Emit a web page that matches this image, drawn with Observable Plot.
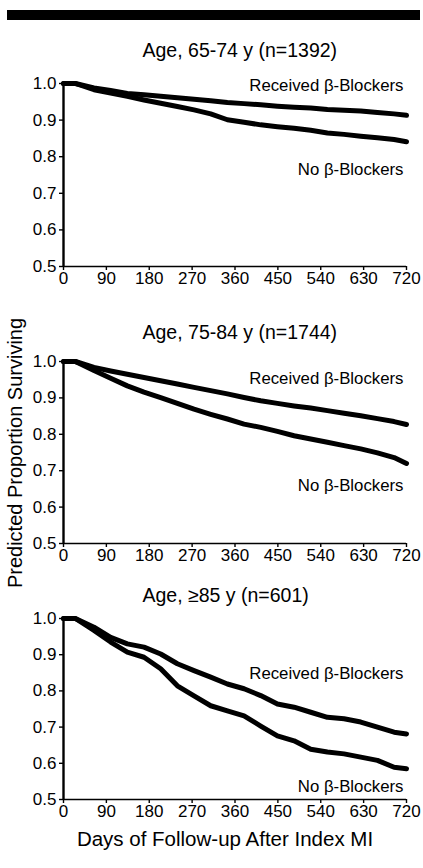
<!DOCTYPE html>
<html>
<head>
<meta charset="utf-8">
<script src="https://cdn.jsdelivr.net/npm/d3@7"></script>
<script src="https://cdn.jsdelivr.net/npm/@observablehq/plot@0.6"></script>
<style>
  html, body { margin: 0; padding: 0; background: #fff; }
  #wrap { position: relative; width: 423px; height: 868px; overflow: hidden; font-family: "Liberation Sans", Arial, Helvetica, sans-serif; color: #000; }
  .bar { position: absolute; left: 7px; top: 10px; width: 413px; height: 10px; background: #000; }
  .panel { position: absolute; left: 0; }
  .ylab { position: absolute; left: 15px; top: 453px; transform: translate(-50%, -50%) rotate(-90deg); white-space: nowrap; font-size: 20px; }
  .xlab { position: absolute; left: 225px; top: 839px; transform: translate(-50%, -50%); white-space: nowrap; font-size: 20.5px; }
  .panel svg text { font-family: "Liberation Sans", Arial, Helvetica, sans-serif; }
  .panel svg g[aria-label="x-axis tick label"], .panel svg g[aria-label="y-axis tick label"] { font-size: 17px; }
</style>
</head>
<body>
<div id="wrap">
  <div class="bar"></div>
  <div class="ylab">Predicted Proportion Surviving</div>
  <div class="xlab">Days of Follow-up After Index MI</div>
</div>
<script>
// ---- data ----
const xTicks = [0, 90, 180, 270, 360, 450, 540, 630, 720];
const yTicks = [0.5, 0.6, 0.7, 0.8, 0.9, 1.0];
const seriesNames = ["Received β-Blockers", "No β-Blockers"];
const panelTitles = ["Age, 65-74 y (n=1392)", "Age, 75-84 y (n=1744)", "Age, ≥85 y (n=601)"];

const days = [0, 25, 64, 99, 134, 169, 204, 239, 274, 309, 344, 379, 414, 449, 484, 519, 554, 589, 624, 659, 694, 720];

const received65 = [1, 1, 0.988, 0.981, 0.973, 0.969, 0.965, 0.961, 0.957, 0.953, 0.948, 0.945, 0.942, 0.938, 0.935, 0.933, 0.929, 0.927, 0.925, 0.921, 0.917, 0.913];
const none65     = [1, 1, 0.983, 0.974, 0.965, 0.955, 0.946, 0.937, 0.928, 0.917, 0.901, 0.894, 0.887, 0.882, 0.878, 0.872, 0.865, 0.861, 0.856, 0.852, 0.847, 0.841];

const received75 = [1, 1, 0.984, 0.974, 0.965, 0.956, 0.947, 0.938, 0.929, 0.920, 0.911, 0.901, 0.892, 0.885, 0.878, 0.872, 0.865, 0.858, 0.851, 0.843, 0.835, 0.827];
const none75     = [1, 1, 0.975, 0.954, 0.933, 0.916, 0.901, 0.885, 0.869, 0.855, 0.842, 0.828, 0.819, 0.808, 0.796, 0.787, 0.778, 0.769, 0.760, 0.749, 0.736, 0.720];

const received85 = [1, 1, 0.976, 0.948, 0.930, 0.921, 0.902, 0.875, 0.856, 0.838, 0.819, 0.806, 0.787, 0.764, 0.755, 0.741, 0.727, 0.723, 0.714, 0.700, 0.686, 0.681];
const none85     = [1, 1, 0.967, 0.935, 0.907, 0.893, 0.861, 0.814, 0.786, 0.759, 0.745, 0.731, 0.703, 0.676, 0.662, 0.639, 0.631, 0.626, 0.617, 0.608, 0.589, 0.585];

// ---- drawing ----
function rows(rec, none) {
  const out = [];
  days.forEach((d, i) => out.push({day: d, surv: rec[i], group: seriesNames[0]}));
  days.forEach((d, i) => out.push({day: d, surv: none[i], group: seriesNames[1]}));
  return out;
}

function panel(cfg) {
  const data = rows(cfg.rec, cfg.none);
  const p = Plot.plot({
    width: 423,
    height: cfg.height,
    marginLeft: 63,
    marginRight: 17,
    marginTop: cfg.marginTop,
    marginBottom: cfg.marginBottom,
    style: {fontFamily: '"Liberation Sans", Arial, Helvetica, sans-serif', fontSize: "17px", color: "#000", background: "transparent", overflow: "visible"},
    x: {domain: [0, 720]},
    y: {domain: [0.5, 1.0]},
    marks: [
      Plot.axisX({ticks: xTicks, tickSize: 4, tickPadding: 1, label: null, fontSize: 17, strokeWidth: 1.4}),
      Plot.axisY({ticks: yTicks, tickFormat: d3.format(".1f"), tickSize: 4, tickPadding: 3, label: null, fontSize: 17, strokeWidth: 1.4}),
      Plot.ruleY([0.5], {stroke: "#000", strokeWidth: 1.6}),
      Plot.ruleX([0], {stroke: "#000", strokeWidth: 2.4}),
      Plot.line(data, {x: "day", y: "surv", z: "group", stroke: "#000", strokeWidth: 5, strokeLinejoin: "round", strokeLinecap: "round"}),
      Plot.text([cfg.title], {frameAnchor: "top-left", dx: 79, dy: cfg.titleDy, textAnchor: "start", lineAnchor: "middle", fontSize: 19.5}),
      Plot.text([seriesNames[0]], {x: 720, y: cfg.recY, textAnchor: "end", dx: -3, fontSize: 16.8}),
      Plot.text([seriesNames[1]], {x: 720, y: cfg.noY, textAnchor: "end", dx: -3, fontSize: 16.8})
    ]
  });
  const div = document.createElement("div");
  div.className = "panel";
  div.style.top = cfg.top + "px";
  div.appendChild(p);
  document.getElementById("wrap").appendChild(div);
}

panel({title: panelTitles[0], rec: received65, none: none65, top: 28, height: 270, marginTop: 55, marginBottom: 32, titleDy: -33, recY: 0.995, noY: 0.766});
panel({title: panelTitles[1], rec: received75, none: none75, top: 298, height: 280, marginTop: 63, marginBottom: 35, titleDy: -28.5, recY: 0.952, noY: 0.660});
panel({title: panelTitles[2], rec: received85, none: none85, top: 578, height: 290, marginTop: 40, marginBottom: 69, titleDy: -22.5, recY: 0.847, noY: 0.535});
</script>
</body>
</html>
